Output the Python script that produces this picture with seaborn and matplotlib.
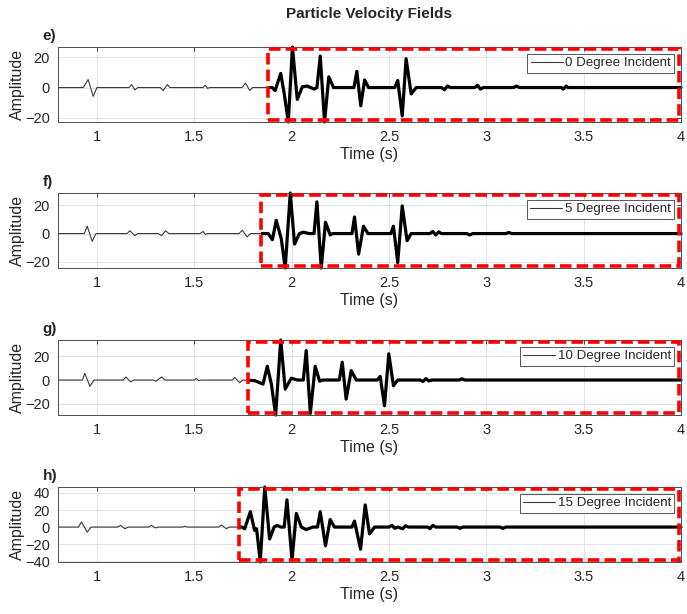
import numpy as np
import pandas as pd
import seaborn as sns
import matplotlib.pyplot as plt
from matplotlib.patches import Rectangle

sns.set_theme(style='white')
plt.rcParams['font.family'] = ['Liberation Sans', 'DejaVu Sans']

# ---------------- data ----------------
panel_labels = ['e)', 'f)', 'g)', 'h)']
legend_labels = ['0 Degree Incident', '5 Degree Incident',
                 '10 Degree Incident', '15 Degree Incident']
box_start = [1.88, 1.845, 1.775, 1.73]   # start of the red dashed window (s)

# 0 degree
t_e = [0.80, 0.93, 0.955, 0.981, 1.00,
       1.165, 1.178, 1.195, 1.21,
       1.325, 1.34, 1.362, 1.375,
       1.545, 1.557, 1.568, 1.58,
       1.745, 1.763, 1.785, 1.80,
       1.90, 1.915, 1.944, 1.962, 1.983, 2.004, 2.029, 2.055, 2.08, 2.115,
       2.13, 2.147, 2.169, 2.191, 2.215,
       2.32, 2.335, 2.355, 2.375, 2.395,
       2.53, 2.545, 2.568, 2.588, 2.614, 2.64,
       2.77, 2.785, 2.80, 2.815, 2.94, 2.955, 2.97, 2.985,
       3.14, 3.155, 3.17, 3.385, 3.395, 3.41, 3.42, 4.0]
amp_e = [0, 0, 5.3, -5.8, 0,
         0, 2.0, -1.5, 0,
         0, -2.0, 2.0, 0,
         0, 1.5, -0.5, 0,
         0, 3.0, -2.0, 0,
         0, -2.0, 9.3, -4.0, -22.7, 26.7, -7.8, 0.5, 1.0, -1.0,
         0, 20.7, -22.7, 7.1, 0,
         0, 10.7, -12.0, 5.0, 0,
         0, 4.7, -18.7, 19.0, -4.2, 0,
         0, -1.5, 1.0, 0, 0, 1.5, -1.0, 0,
         0, 1.0, 0, 0, -1.0, 1.0, 0, 0]

# 5 degree
t_f = [0.80, 0.935, 0.95, 0.976, 0.995,
       1.155, 1.169, 1.195, 1.21,
       1.315, 1.332, 1.352, 1.37,
       1.53, 1.545, 1.556, 1.57,
       1.73, 1.747, 1.771, 1.79,
       1.88, 1.901, 1.921, 1.947, 1.967, 1.993, 2.015, 2.04, 2.06, 2.09,
       2.115, 2.13, 2.152, 2.174, 2.198, 2.21,
       2.31, 2.323, 2.344, 2.369, 2.392,
       2.51, 2.523, 2.545, 2.568, 2.593, 2.614,
       2.71, 2.725, 2.74, 2.755, 2.77, 2.90, 2.915, 2.93,
       3.10, 3.115, 3.13, 4.0]
amp_f = [0, 0, 5.2, -5.5, 0,
         0, 2.0, -1.5, 0,
         0, -1.5, 2.0, 0,
         0, 1.5, -0.5, 0,
         0, 2.4, -2.4, 0,
         0, -4.3, 9.3, -3.8, -24.3, 28.6, -7.4, 0, 1.0, 0,
         0, 22.4, -24.3, 8.0, -1.0, 0,
         0, 11.7, -14.5, 5.2, 0,
         0, 5.2, -20.5, 19.5, -5.0, 0,
         0, 1.5, -1.0, 1.2, 0, 0, -1.0, 0,
         0, 0.8, 0, 0]

# 10 degree
t_g = [0.80, 0.925, 0.938, 0.964, 0.985,
       1.135, 1.149, 1.173, 1.19,
       1.29, 1.303, 1.332, 1.35,
       1.50, 1.511, 1.522, 1.535,
       1.695, 1.708, 1.733, 1.75,
       1.81, 1.853, 1.875, 1.896, 1.918, 1.944, 1.967, 1.998, 2.03,
       2.06, 2.075, 2.096, 2.121, 2.144, 2.16,
       2.245, 2.26, 2.28, 2.306, 2.332,
       2.44, 2.455, 2.477, 2.499, 2.523, 2.545,
       2.66, 2.675, 2.69, 2.705, 2.72, 2.86, 2.875, 2.89, 4.0]
amp_g = [0, 0, 5.6, -5.3, 0,
         0, 2.5, -1.5, 0,
         0, -1.0, 2.5, 0,
         0, 1.4, -0.5, 0,
         0, 2.2, -2.2, 0,
         -0.5, -3.4, 11.5, -3.4, -29.3, 33.5, -7.6, 1.5, 0,
         0, 24.7, -28.0, 11.5, -1.0, 0,
         0, 14.9, -16.0, 7.9, 0,
         0, 3.0, -21.6, 22.0, -4.8, 0,
         0, -1.2, 1.2, -0.8, 0, 0, 1.0, 0, 0]

# 15 degree
t_h = [0.80, 0.905, 0.921, 0.95, 0.97,
       1.105, 1.122, 1.144, 1.16,
       1.265, 1.28, 1.30, 1.315,
       1.44, 1.451, 1.465,
       1.625, 1.639, 1.665, 1.68,
       1.745, 1.759, 1.788, 1.81, 1.82, 1.839, 1.862, 1.887, 1.91, 1.925, 1.945,
       1.962, 1.976, 2.002, 2.024, 2.05, 2.075, 2.108,
       2.133, 2.147, 2.174, 2.198, 2.22,
       2.31, 2.323, 2.354, 2.378, 2.40, 2.426,
       2.50, 2.515, 2.53, 2.545, 2.57, 2.585, 2.60, 2.70, 2.71, 2.725, 2.74,
       2.85, 2.865, 2.88, 3.07, 3.085, 3.10, 4.0]
amp_h = [0, 0, 6.0, -6.0, 0,
         0, 2.0, -2.0, 0,
         0, 2.0, -1.0, 0,
         0, 1.0, 0,
         0, 2.4, -2.0, 0,
         0, -2.0, 18.0, -4.0, -2.0, -41.0, 47.0, -14.0, 0, 2.0, 0,
         0, 32.0, -39.0, 16.0, 0, -3.0, 0,
         0, 18.0, -22.0, 8.8, 0,
         0, 7.0, -26.0, 26.0, -8.0, 0,
         0, 2.0, -1.5, 0, -2.0, 1.5, 0, 0, -2.0, 2.0, 0,
         0, -1.5, 0, 0, -1.5, 0, 0]

times = [t_e, t_f, t_g, t_h]
amps = [amp_e, amp_f, amp_g, amp_h]
yticks = [[-20, 0, 20], [-20, 0, 20], [-20, 0, 20], [-40, -20, 0, 20, 40]]
xticks = [1, 1.5, 2, 2.5, 3, 3.5, 4]
xticklabels = ['1', '1.5', '2', '2.5', '3', '3.5', '4']

# ---------------- figure ----------------
fig = plt.figure(figsize=(6.87, 6.14), dpi=100)
bottoms = [0.8013, 0.5635, 0.3241, 0.0847]
axes = [fig.add_axes([0.0844, b, 0.9069, 0.1221]) for b in bottoms]

for i, ax in enumerate(axes):
    df = pd.DataFrame({'Time': times[i], 'Amp': amps[i]})

    # thin trace over the full record
    sns.lineplot(data=df, x='Time', y='Amp', ax=ax, color='#3a3a3a', lw=0.8,
                 estimator=None, sort=False, label=legend_labels[i])
    # thick trace inside the window
    sns.lineplot(data=df, x='Time', y='Amp', ax=ax, color='black', lw=2.3,
                 estimator=None, sort=False, legend=False)
    thick = ax.lines[-1]
    thick.set_solid_joinstyle('round')
    clip = Rectangle((box_start[i], -1), 5, 3, transform=ax.get_xaxis_transform())
    thick.set_clip_path(clip)

    # red dashed window
    ax.add_patch(Rectangle((box_start[i], 0.03), 3.99 - box_start[i], 0.94,
                           transform=ax.get_xaxis_transform(), fill=False,
                           edgecolor='#ff0000', lw=2.6,
                           linestyle=(0, (3.2, 1.4)), clip_on=False, zorder=5))

    ax.set_xlim(0.8, 4)
    ax.set_ylim(min(amps[i]), max(amps[i]))
    ax.set_xticks(xticks)
    ax.set_xticklabels(xticklabels)
    ax.set_yticks(yticks[i])
    ax.grid(True, color='#e3e3e3', lw=0.7)
    ax.tick_params(direction='in', top=True, right=True, length=3, width=0.6,
                   labelsize=10.5, colors='#262626', pad=6)
    for s in ax.spines.values():
        s.set_color('#4d4d4d')
        s.set_linewidth(0.7)
    ax.set_xlabel('Time (s)', fontsize=11.5, color='#262626', labelpad=2)
    ax.set_ylabel('Amplitude', fontsize=11.5, color='#262626', labelpad=0)
    ax.text(-0.025, 1.06, panel_labels[i], transform=ax.transAxes,
            fontsize=11, fontweight='bold', ha='left', va='bottom')

    leg = ax.legend(loc='upper right', fontsize=9.6, handlelength=2.4,
                    fancybox=False, framealpha=1, edgecolor='#555555',
                    borderpad=0.25, handletextpad=0.2, borderaxespad=0.5)
    leg.get_frame().set_linewidth(0.7)
    leg.set_zorder(6)

fig.suptitle('Particle Velocity Fields', fontsize=11, fontweight='bold',
             x=0.537, y=0.988)

plt.savefig('out.png', dpi=100)
